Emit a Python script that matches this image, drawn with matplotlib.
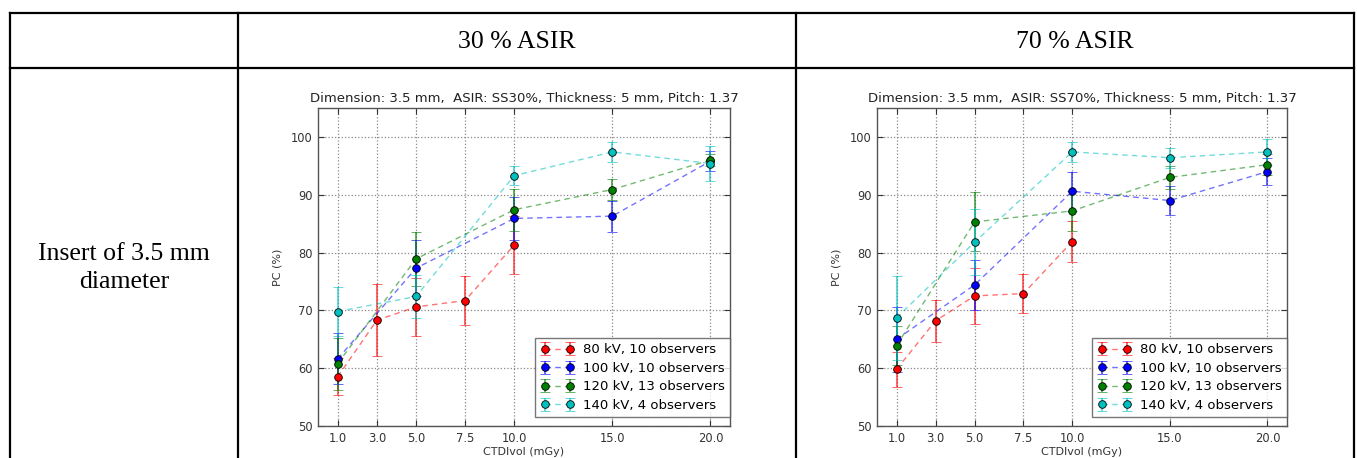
import numpy as np
import matplotlib
matplotlib.use('Agg')
import matplotlib.pyplot as plt
from matplotlib.lines import Line2D

# ---- data ----
dose = [1.0, 3.0, 5.0, 7.5, 10.0, 15.0, 20.0]
labels = ['80 kV, 10 observers', '100 kV, 10 observers',
          '120 kV, 13 observers', '140 kV, 4 observers']
colors = ['r', 'b', 'g', 'c']

# 30 % ASIR
x80 = [1.0, 3.0, 5.0, 7.5, 10.0]
x_other = [1.0, 5.0, 10.0, 15.0, 20.0]

pc30_80 = [58.5, 68.3, 70.6, 71.7, 81.3]
err30_80 = [3.2, 6.2, 5.0, 4.2, 5.0]
pc30_100 = [61.6, 77.3, 85.9, 86.3, 95.8]
err30_100 = [4.4, 4.8, 3.7, 2.7, 1.7]
pc30_120 = [60.8, 78.9, 87.4, 90.9, 96.0]
err30_120 = [4.5, 4.7, 3.6, 1.8, 1.0]
pc30_140 = [69.8, 72.4, 93.3, 97.4, 95.4]
err30_140 = [4.2, 3.7, 1.6, 1.8, 3.0]

# 70 % ASIR
pc70_80 = [59.8, 68.2, 72.5, 72.9, 81.9]
err70_80 = [3.0, 3.6, 4.9, 3.4, 3.5]
pc70_100 = [65.0, 74.4, 90.6, 89.0, 94.0]
err70_100 = [5.6, 4.3, 3.4, 2.5, 2.3]
pc70_120 = [63.9, 85.3, 87.2, 93.0, 95.2]
err70_120 = [3.4, 5.1, 3.5, 2.0, 1.8]
pc70_140 = [68.7, 81.8, 97.4, 96.4, 97.4]
err70_140 = [7.3, 5.7, 1.8, 1.7, 2.2]

col_titles = ['30 % ASIR', '70 % ASIR']
row_title = 'Insert of 3.5 mm\ndiameter'
chart_titles = ['Dimension: 3.5 mm,  ASIR: SS30%, Thickness: 5 mm, Pitch: 1.37',
                'Dimension: 3.5 mm,  ASIR: SS70%, Thickness: 5 mm, Pitch: 1.37']

W, H = 1357, 458
fig = plt.figure(figsize=(W / 100, H / 100), dpi=100)
fig.patch.set_facecolor('white')


def fx(px):
    return px / W


def fy(py):
    return 1 - py / H


# ---- table frame ----
lw_tab = 1.6
xs = [10, 238, 796, 1354]
for xv in xs:
    fig.add_artist(Line2D([fx(xv), fx(xv)], [fy(13), fy(H + 2)], color='k', lw=lw_tab))
for yv in [13, 68]:
    fig.add_artist(Line2D([fx(xs[0]), fx(xs[-1])], [fy(yv), fy(yv)], color='k', lw=lw_tab))

serif = ['Liberation Serif', 'DejaVu Serif']
fig.text(fx(517), fy(42), col_titles[0], family=serif, fontsize=18.5, ha='center', va='center')
fig.text(fx(1075), fy(42), col_titles[1], family=serif, fontsize=18.5, ha='center', va='center')
fig.text(fx(124), fy(268), row_title, family=serif, fontsize=18.5, ha='center', va='center',
         linespacing=1.3)


def draw_panel(ax, series, title):
    for (xv, yv, ev), c, lab in zip(series, colors, labels):
        rgb = matplotlib.colors.to_rgb(c)
        ax.errorbar(xv, yv, yerr=ev, fmt='o--', color=rgb + (0.55,), mfc=rgb, mec='k',
                    mew=0.6, ms=5.5, lw=1.0, dashes=(4, 3), ecolor=rgb + (0.7,),
                    elinewidth=1.2, capsize=3.5, capthick=1.2, label=lab)
    ax.set_xlim(0, 21)
    ax.set_ylim(50, 105)
    ax.set_xticks(dose)
    ax.set_xticklabels(['%.1f' % d for d in dose])
    ax.set_yticks([50, 60, 70, 80, 90, 100])
    ax.grid(True, color='#888888', linestyle=':', lw=0.9)
    ax.tick_params(direction='in', top=True, right=True, labelsize=8.3, length=4,
                   colors='#333333', pad=4)
    for s in ax.spines.values():
        s.set_color('#555555')
        s.set_linewidth(1.0)
    ax.set_title(title, fontsize=9.5, pad=4, color='#222222')
    ax.set_xlabel('CTDIvol (mGy)', fontsize=8.0, color='#333333', labelpad=2)
    ax.set_ylabel('PC (%)', fontsize=8.0, color='#333333', labelpad=6)
    leg = ax.legend(loc='lower right', bbox_to_anchor=(1.0, 0.028), borderaxespad=0,
                    fontsize=9.5, numpoints=2, handlelength=2.5, handletextpad=0.7,
                    labelspacing=0.42, fancybox=False, borderpad=0.4)
    leg.get_frame().set_edgecolor('#555555')
    leg.get_frame().set_linewidth(1.0)


ax1 = fig.add_axes([fx(318), fy(426), fx(730 - 318), (426 - 108) / H])
draw_panel(ax1, [(x80, pc30_80, err30_80), (x_other, pc30_100, err30_100),
                 (x_other, pc30_120, err30_120), (x_other, pc30_140, err30_140)],
           chart_titles[0])

ax2 = fig.add_axes([fx(877), fy(426), fx(1287 - 877), (426 - 108) / H])
draw_panel(ax2, [(x80, pc70_80, err70_80), (x_other, pc70_100, err70_100),
                 (x_other, pc70_120, err70_120), (x_other, pc70_140, err70_140)],
           chart_titles[1])

fig.savefig('out.png', dpi=100, facecolor='white')
